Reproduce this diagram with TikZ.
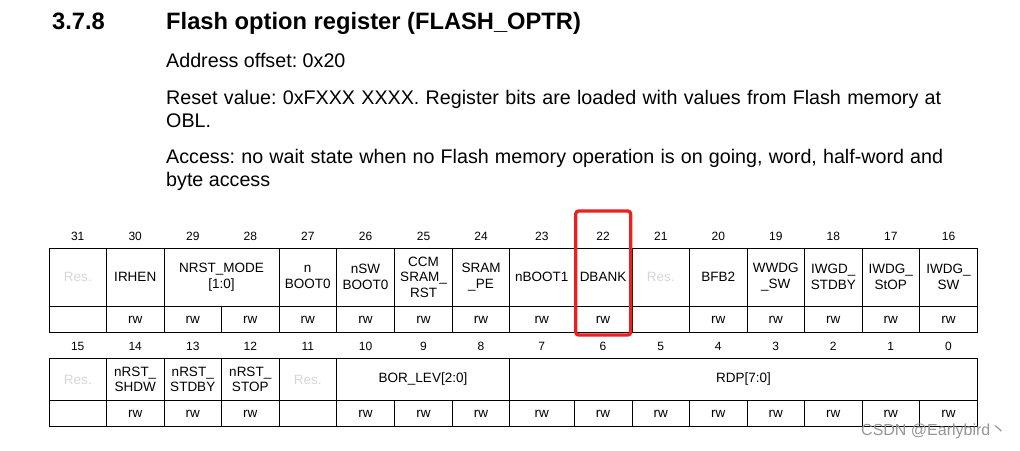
\documentclass[tikz,border=0pt]{standalone}
\usepackage{fontspec}
\setmainfont{Liberation Sans}
\newfontfamily\cjk{Noto Sans CJK SC}
\definecolor{annred}{RGB}{235,32,32}
\definecolor{resgray}{RGB}{215,215,215}
\definecolor{wmgray}{RGB}{150,150,150}
\begin{document}
\begin{tikzpicture}[x=1pt,y=-1pt,
  tbl/.style={draw=black,line width=0.9pt},
  txt/.style={inner sep=0pt,anchor=base west},
  headf/.style={txt,font=\bfseries\fontsize{23.7}{28}\selectfont},
  bodyf/.style={txt,font=\fontsize{19.7}{23}\selectfont\frenchspacing},
  bitnum/.style={inner sep=0pt,anchor=base,font=\fontsize{12}{14}\selectfont},
  lab/.style={inner sep=0pt,align=center,font=\fontsize{13.5}{15.6}\selectfont},
  reslab/.style={lab,text=resgray},
  rwlab/.style={lab},
  hilite/.style={draw=annred,line width=3.3pt,rounded corners=3pt,inner sep=0pt,minimum width=55pt,minimum height=124pt}
]
\useasboundingbox (0,0) rectangle (1020,450);
\fill[white] (0,0) rectangle (1020,450);

% heading and description
\node[headf] (secnum) at (52,29) {3.7.8};
\node[headf] (title) at (166,29) {Flash option register (FLASH\_OPTR)};
\node[bodyf] (addr) at (166,67.3) {Address offset: 0x20};
\node[bodyf] (reset1) at (166,104.3) {\makebox[775pt][s]{Reset value: 0xFXXX XXXX. Register bits are loaded with values from Flash memory at}};
\node[bodyf] (reset2) at (166,127.3) {OBL.};
\node[bodyf] (acc1) at (166,163.3) {\makebox[777pt][s]{Access: no wait state when no Flash memory operation is on going, word, half-word and}};
\node[bodyf] (acc2) at (166,186.7) {byte access};

% upper register table (bits 31..16)
\draw[tbl] (49,248.3) rectangle (977.5,332.3);
\draw[tbl] (49,306) -- (977.5,306);
\foreach \x in {106.5,164,279,336.5,394.5,452.5,509.5,574,632,689.5,747,804.5,862,919.5}
  \draw[tbl] (\x,248.3) -- (\x,332.3);
\draw[tbl] (221.5,306) -- (221.5,332.3);

% lower register table (bits 15..0)
\draw[tbl] (49,358.3) rectangle (977.5,426);
\draw[tbl] (49,400.7) -- (977.5,400.7);
\foreach \x in {106.5,164,221.5,279,336.5,509.5}
  \draw[tbl] (\x,358.3) -- (\x,426);
\foreach \x in {394.5,452.5,574,632,689.5,747,804.5,862,919.5}
  \draw[tbl] (\x,400.7) -- (\x,426);

% bit numbers
\foreach \k/\x in {0/77.75,1/135.25,2/192.75,3/250.25,4/307.75,5/365.5,6/423.5,7/481,8/541.75,9/603,10/660.75,11/718.25,12/775.75,13/833.25,14/890.75,15/948.5}{
  \pgfmathtruncatemacro\bhi{31-\k}
  \pgfmathtruncatemacro\blo{15-\k}
  \node[bitnum] (n\bhi) at (\x,240) {\bhi};
  \node[bitnum] (n\blo) at (\x,350) {\blo};
}

% access rows
\foreach \k/\x in {1/135.25,2/192.75,3/250.25,4/307.75,5/365.5,6/423.5,7/481,8/541.75,9/603,11/718.25,12/775.75,13/833.25,14/890.75,15/948.5}{
  \pgfmathtruncatemacro\bhi{31-\k}
  \node[rwlab] (rw\bhi) at (\x,319.5) {rw};
}
\foreach \k/\x in {1/135.25,2/192.75,3/250.25,5/365.5,6/423.5,7/481,8/541.75,9/603,10/660.75,11/718.25,12/775.75,13/833.25,14/890.75,15/948.5}{
  \pgfmathtruncatemacro\blo{15-\k}
  \node[rwlab] (rw\blo) at (\x,413.5) {rw};
}

% upper field names
\node[reslab] (f31) at (77.75,277) {Res.};
\node[lab] (f30) at (135.25,277) {IRHEN};
\node[lab] (f29) at (221.5,277) {NRST\_MODE\\{}[1:0]};
\node[lab] (f27) at (307.75,277) {n\\BOOT0};
\node[lab] (f26) at (365.5,277) {nSW\\BOOT0};
\node[lab] (f25) at (423.5,277) {CCM\\SRAM\_\\RST};
\node[lab] (f24) at (481,277) {SRAM\\\_PE};
\node[lab] (f23) at (541.75,277) {nBOOT1};
\node[lab] (f22) at (603,277) {DBANK};
\node[reslab] (f21) at (660.75,277) {Res.};
\node[lab] (f20) at (718.25,277) {BFB2};
\node[lab] (f19) at (775.75,277) {WWDG\\\_SW};
\node[lab] (f18) at (833.25,277) {IWGD\_\\STDBY};
\node[lab] (f17) at (890.75,277) {IWDG\_\\StOP};
\node[lab] (f16) at (948.5,277) {IWDG\_\\SW};

% lower field names
\node[reslab] (f15) at (77.75,379.5) {Res.};
\node[lab] (f14) at (135.25,379.5) {nRST\_\\SHDW};
\node[lab] (f13) at (192.75,379.5) {nRST\_\\STDBY};
\node[lab] (f12) at (250.25,379.5) {nRST\_\\STOP};
\node[reslab] (f11) at (307.75,379.5) {Res.};
\node[lab] (f10) at (423,379.5) {BOR\_LEV[2:0]};
\node[lab] (f7) at (743.5,379.5) {RDP[7:0]};

% highlight of DBANK
\node[hilite] (hl) at (603.2,273) {};

% watermark
\node[txt,text=wmgray,font=\fontsize{16}{18}\selectfont] (wm) at (861,435.5) {CSDN @Earlybird{\cjk 丶}};
\end{tikzpicture}
\end{document}
